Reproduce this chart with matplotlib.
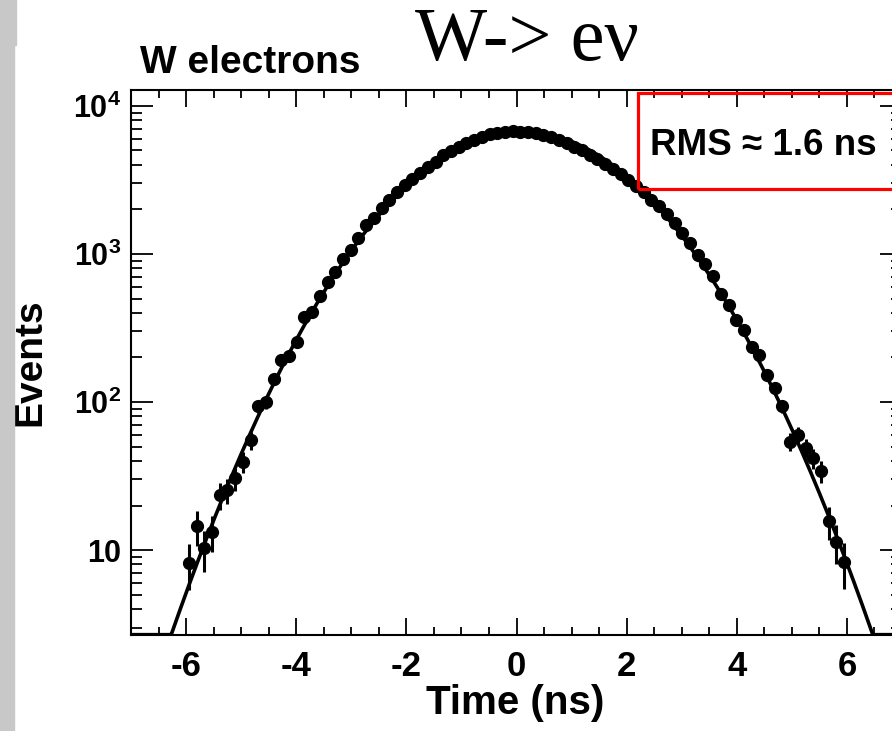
import numpy as np
import matplotlib
matplotlib.use('Agg')
import matplotlib.pyplot as plt
from matplotlib.patches import Rectangle
from matplotlib.ticker import FixedLocator, LogLocator, NullFormatter

plt.rcParams['font.family'] = ['Liberation Sans', 'DejaVu Sans']
plt.rcParams['font.weight'] = 'bold'
plt.rcParams['axes.unicode_minus'] = False
plt.rcParams['mathtext.fontset'] = 'custom'
plt.rcParams['mathtext.rm'] = 'Liberation Sans:bold'
plt.rcParams['mathtext.bf'] = 'Liberation Sans:bold'
plt.rcParams['mathtext.it'] = 'Liberation Sans:bold'

# histogram bin centres (ns), bin width 0.14 ns
time_ns = [-5.95, -5.81, -5.67, -5.53, -5.39, -5.25, -5.11, -4.97, -4.83, -4.69,
           -4.55, -4.41, -4.27, -4.13, -3.99, -3.85, -3.71, -3.57, -3.43, -3.29,
           -3.15, -3.01, -2.87, -2.73, -2.59, -2.45, -2.31, -2.17, -2.03, -1.89,
           -1.75, -1.61, -1.47, -1.33, -1.19, -1.05, -0.91, -0.77, -0.63, -0.49,
           -0.35, -0.21, -0.07, 0.07, 0.21, 0.35, 0.49, 0.63, 0.77, 0.91,
           1.05, 1.19, 1.33, 1.47, 1.61, 1.75, 1.89, 2.03, 2.17, 2.31,
           2.45, 2.59, 2.73, 2.87, 3.01, 3.15, 3.29, 3.43, 3.57, 3.71,
           3.85, 3.99, 4.13, 4.27, 4.41, 4.55, 4.69, 4.83, 4.97, 5.11,
           5.25, 5.39, 5.53, 5.67, 5.81, 5.95]

# events per bin
events = [8.2, 14.5, 10.3, 13.3, 23.5, 25.4, 30.5, 39.5, 55, 94,
          100, 143, 191, 203, 255, 377, 408, 520, 650, 759,
          925, 1065, 1290, 1570, 1742, 2040, 2320, 2640, 2930, 3210,
          3510, 3890, 4200, 4670, 4970, 5310, 5600, 5890, 6200, 6440,
          6600, 6700, 6720, 6700, 6650, 6550, 6400, 6200, 5900, 5600,
          5300, 5000, 4680, 4380, 4050, 3750, 3450, 3150, 2880, 2600,
          2330, 2100, 1870, 1620, 1380, 1180, 990, 850, 710, 540,
          455, 360, 306, 236, 208, 152, 124, 94, 54, 60,
          49, 42, 34, 15.6, 11.4, 8.3]

# gaussian fit parameters
fit_norm = 6720
fit_mean = 0.10
fit_sigma = 1.61

x_ticks = [-6, -4, -2, 0, 2, 4, 6]
y_ticks = [10, 100, 1000, 10000]
y_tick_labels = ['10', '$10^{2}$', '$10^{3}$', '$10^{4}$']

xmin, xmax = -7, 7
ymin, ymax = 2.67, 1.28e4

fig = plt.figure(figsize=(8.92, 7.31), dpi=100)

# grey strip on the left edge
fig.patches.append(Rectangle((0, 0), 14 / 892, 1, transform=fig.transFigure,
                             color='#c8c8c8', zorder=0))
fig.patches.append(Rectangle((0, 1 - 45 / 731), 16 / 892, 45 / 731,
                             transform=fig.transFigure, color='#c8c8c8', zorder=0))

ax = fig.add_axes([131 / 892, 96 / 731, 771 / 892, 545 / 731])

t = np.asarray(time_ns)
n = np.asarray(events)
ax.errorbar(t, n, yerr=np.sqrt(n), fmt='o', color='black', ms=8.5,
            elinewidth=2.2, capsize=0, zorder=3)

# fitted curve, clamped at the axis minimum like ROOT does
tf = np.linspace(xmin, xmax, 800)
f = fit_norm * np.exp(-0.5 * ((tf - fit_mean) / fit_sigma) ** 2)
ax.plot(tf, np.maximum(f, ymin * 1.005), color='black', lw=2.6, zorder=2)

ax.set_yscale('log')
ax.set_xlim(xmin, xmax)
ax.set_ylim(ymin, ymax)

ax.set_xticks(x_ticks)
ax.xaxis.set_minor_locator(FixedLocator(np.arange(-7, 7.01, 0.5)))
ax.set_yticks(y_ticks)
ax.set_yticklabels(y_tick_labels)
ax.yaxis.set_minor_locator(LogLocator(base=10, subs=np.arange(2, 10)))
ax.yaxis.set_minor_formatter(NullFormatter())

for s in ax.spines.values():
    s.set_linewidth(1.5)
ax.tick_params(axis='both', which='both', direction='in', top=True, right=True,
               width=1.3)
ax.tick_params(axis='x', which='major', length=12, pad=11, labelsize=25)
ax.tick_params(axis='x', which='minor', length=6)
ax.tick_params(axis='y', which='major', length=16, pad=7, labelsize=22)
ax.tick_params(axis='y', which='minor', length=8)

ax.set_xlabel('Time (ns)', fontsize=29, fontweight='bold', va='center')
ax.xaxis.set_label_coords(0.498, -0.124)
ax.set_ylabel('Events', fontsize=28, fontweight='bold', va='center')
ax.yaxis.set_label_coords(-0.131, 0.5)

ax.text(0.012, 1.031, 'W electrons', transform=ax.transAxes, fontsize=28,
        fontweight='bold', va='baseline', ha='left')

fig.text(415 / 892, 1 - 60 / 731, 'W-> e\u03bd', fontsize=55,
         family=['Liberation Serif', 'DejaVu Serif'], fontweight='normal',
         va='baseline', ha='left')

# RMS box
ax.add_patch(Rectangle((0.658, 0.818), 0.36, 0.1765, transform=ax.transAxes,
                       fill=False, edgecolor='#ff0000', lw=2.3, clip_on=False,
                       zorder=5))
ax.text(0.673, 0.899, 'RMS \u2248 1.6 ns', transform=ax.transAxes, fontsize=26.5,
        fontweight='bold', va='center', ha='left')

fig.savefig('out.png', dpi=100)
